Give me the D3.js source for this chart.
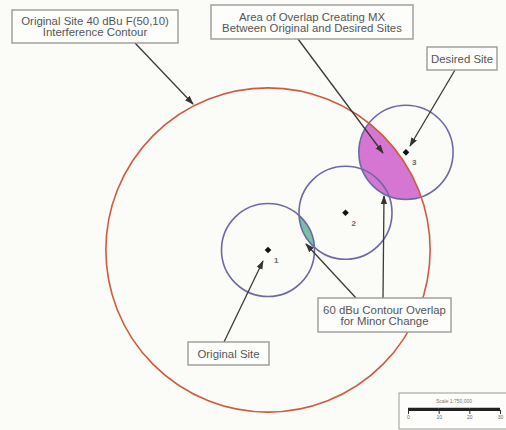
<!DOCTYPE html>
<html>
<head>
<meta charset="utf-8">
<script src="https://cdn.jsdelivr.net/npm/d3@7"></script>
<style>
  body { margin: 0; background: #fbfbf7; }
  svg { display: block; font-family: "Liberation Sans", Arial, sans-serif; }
</style>
</head>
<body>
<div id="chart"></div>
<script>
// site positions in km, relative to the original site
const siteNames = ["1", "2", "3"];
const siteX = [0, 25, 44.5];
const siteY = [0, 12, 31.5];
const contour60 = [15, 15, 15.2];   // 60 dBu contour radius, km
const contour40 = 52.3;             // original site 40 dBu F(50,10), km

const labelLines = [
  ["Original Site 40 dBu F(50,10)", "Interference Contour"],
  ["Area of Overlap Creating MX", "Between Original and Desired Sites"],
  ["Desired Site"],
  ["60 dBu Contour Overlap", "for Minor Change"],
  ["Original Site"]
];
const scaleTicks = [0, 10, 20, 30];
const scaleTitle = "Scale 1:750,000";

const width = 506, height = 430;
const k = 3.1; // px per km

const x = d3.scaleLinear().domain([-268 / k, (width - 268) / k]).range([0, width]);
const y = d3.scaleLinear().domain([250 / k, (250 - height) / k]).range([0, height]);
const r = d => x(d) - x(0);

const svg = d3.select("#chart").append("svg")
  .attr("width", width).attr("height", height);

svg.append("rect").attr("width", width).attr("height", height).attr("fill", "#fbfbf7");

const defs = svg.append("defs");
defs.append("marker")
  .attr("id", "arrow")
  .attr("viewBox", "0 0 10 10")
  .attr("refX", 9).attr("refY", 5)
  .attr("markerWidth", 7).attr("markerHeight", 7)
  .attr("orient", "auto")
  .append("path").attr("d", "M0,1.5L10,5L0,8.5Z").attr("fill", "#333");

// clip paths for the overlap areas
defs.append("clipPath").attr("id", "clipBig")
  .append("circle").attr("cx", x(0)).attr("cy", y(0)).attr("r", r(contour40));
defs.append("clipPath").attr("id", "clipOne")
  .append("circle").attr("cx", x(siteX[0])).attr("cy", y(siteY[0])).attr("r", r(contour60[0]));

// MX overlap: desired site contour inside the 40 dBu contour
svg.append("circle")
  .attr("cx", x(siteX[2])).attr("cy", y(siteY[2])).attr("r", r(contour60[2]))
  .attr("clip-path", "url(#clipBig)")
  .attr("fill", "#d476d2");

// 60 dBu overlap between site 1 and 2
svg.append("circle")
  .attr("cx", x(siteX[1])).attr("cy", y(siteY[1])).attr("r", r(contour60[1]))
  .attr("clip-path", "url(#clipOne)")
  .attr("fill", "#79bfa6");

// 60 dBu contours
svg.selectAll("circle.c60")
  .data(siteNames)
  .enter().append("circle")
  .attr("class", "c60")
  .attr("cx", (d, i) => x(siteX[i]))
  .attr("cy", (d, i) => y(siteY[i]))
  .attr("r", (d, i) => r(contour60[i]))
  .attr("fill", "none")
  .attr("stroke", "#6b6aa6")
  .attr("stroke-width", 1.6);

// 40 dBu interference contour
svg.append("circle")
  .attr("cx", x(0)).attr("cy", y(0)).attr("r", r(contour40))
  .attr("fill", "none")
  .attr("stroke", "#cf5a3f")
  .attr("stroke-width", 1.6);

// site dots and numbers
svg.selectAll("path.site")
  .data(siteNames)
  .enter().append("path")
  .attr("class", "site")
  .attr("transform", (d, i) => `translate(${x(siteX[i])},${y(siteY[i])}) rotate(45)`)
  .attr("d", d3.symbol(d3.symbolSquare, 22))
  .attr("fill", "#111");

svg.selectAll("text.num")
  .data(siteNames)
  .enter().append("text")
  .attr("class", "num")
  .attr("x", (d, i) => x(siteX[i]) + 6)
  .attr("y", (d, i) => y(siteY[i]) + 13)
  .attr("font-size", 8)
  .attr("font-weight", "bold")
  .attr("fill", "#666")
  .text(d => d);

// annotation boxes: [x, y, w, h]
const boxes = [
  [12, 10, 166, 33],
  [211, 5, 202, 34],
  [427, 47, 70, 23],
  [318, 298, 133, 34],
  [188, 342, 81, 23]
];

// arrows: from box edge to target
const arrows = [
  [135, 43, 193, 104],
  [298, 39, 383, 153],
  [455, 70, 410, 146],
  [356, 298, 306, 244],
  [383, 298, 384, 196],
  [224, 342, 263, 261]
];

svg.selectAll("line.arrow")
  .data(arrows)
  .enter().append("line")
  .attr("class", "arrow")
  .attr("x1", d => d[0]).attr("y1", d => d[1])
  .attr("x2", d => d[2]).attr("y2", d => d[3])
  .attr("stroke", "#3a3a3a")
  .attr("stroke-width", 1.3)
  .attr("marker-end", "url(#arrow)");

const box = svg.selectAll("g.box")
  .data(boxes)
  .enter().append("g")
  .attr("class", "box");

box.append("rect")
  .attr("x", d => d[0]).attr("y", d => d[1])
  .attr("width", d => d[2]).attr("height", d => d[3])
  .attr("fill", "#fdfdfb")
  .attr("stroke", "#9a9a98")
  .attr("stroke-width", 1.4);

box.each(function (d, i) {
  const lines = labelLines[i];
  const lh = 11;
  const cy = d[1] + d[3] / 2 - (lines.length - 1) * lh / 2 + 4;
  d3.select(this).selectAll("text")
    .data(lines)
    .enter().append("text")
    .attr("x", d[0] + d[2] / 2)
    .attr("y", (t, j) => cy + j * lh)
    .attr("text-anchor", "middle")
    .attr("font-size", 11.4)
    .attr("fill", "#555")
    .text(t => t);
});

// scale bar
const sb = d3.scaleLinear().domain([0, 30]).range([408, 500]);
svg.append("rect")
  .attr("x", 399).attr("y", 393).attr("width", 110).attr("height", 36)
  .attr("fill", "#fdfdfb").attr("stroke", "#9a9a98").attr("stroke-width", 1);
svg.append("text")
  .attr("x", sb(15)).attr("y", 403)
  .attr("text-anchor", "middle")
  .attr("font-size", 5)
  .attr("fill", "#777")
  .text(scaleTitle);
svg.append("line")
  .attr("x1", sb(0)).attr("x2", sb(30))
  .attr("y1", 410).attr("y2", 410)
  .attr("stroke", "#222").attr("stroke-width", 2);
svg.selectAll("line.seg")
  .data([5, 15, 25])
  .enter().append("line")
  .attr("x1", d => sb(d - 5)).attr("x2", d => sb(d + 5))
  .attr("y1", 409).attr("y2", 409)
  .attr("stroke", "#222").attr("stroke-width", 2.5);
svg.append("g")
  .attr("transform", "translate(0,410)")
  .call(d3.axisBottom(sb).tickValues(scaleTicks).tickSize(4).tickFormat(d3.format("d")))
  .call(g => g.select(".domain").remove())
  .call(g => g.selectAll("line").attr("stroke", "#333"))
  .call(g => g.selectAll("text").attr("font-size", 5).attr("fill", "#666").attr("dy", "0.4em"));
</script>
</body>
</html>
